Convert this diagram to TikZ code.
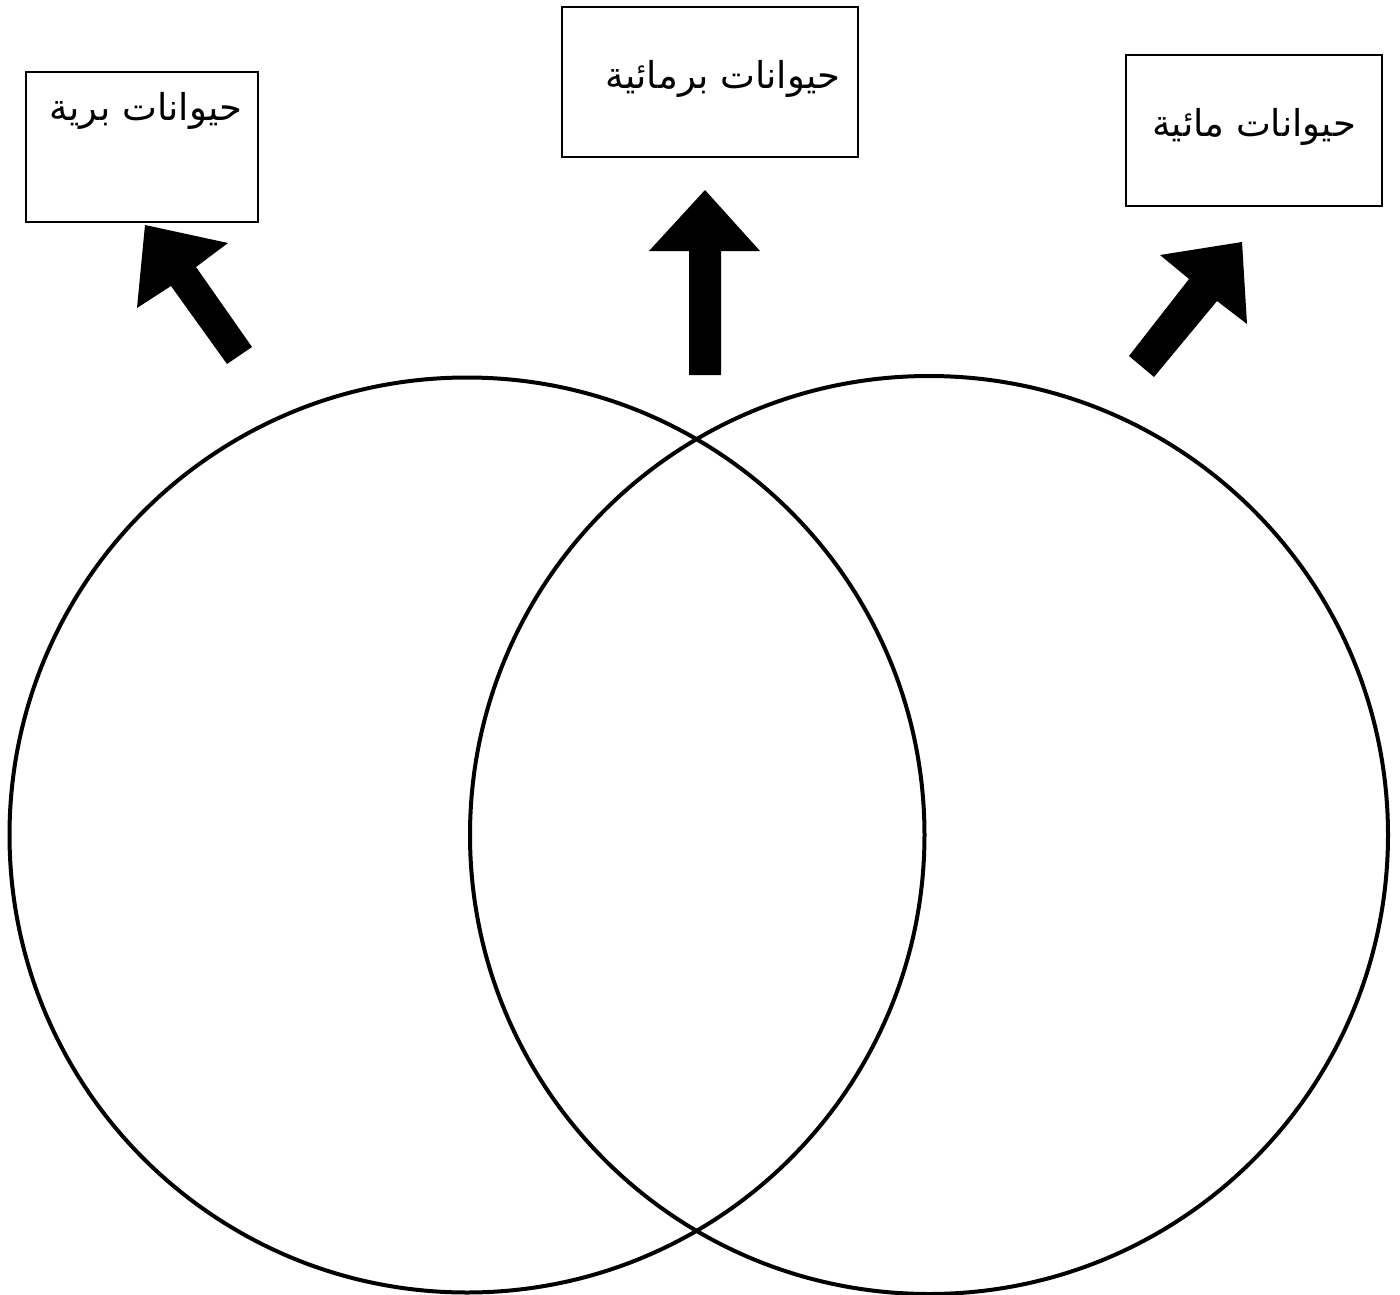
\documentclass[tikz,border=0pt]{standalone}
\usepackage{fontspec}
\newfontfamily\arabicfont[Script=Arabic]{DejaVu Sans}
\TeXXeTstate=1
\begin{document}
\begin{tikzpicture}[x=1pt,y=-1pt,
  box/.style={draw=black,line width=2.8pt,fill=white},
  lbl/.style={font=\arabicfont\fontsize{37}{44}\selectfont,inner sep=0pt,anchor=center},
  ring/.style={draw=black,line width=4pt},
  blockarrow/.style={fill=black,draw=none}]
\useasboundingbox (0,0) rectangle (1400,1295);
\fill[white] (0,0) rectangle (1400,1295);
% circles
\node[ring,circle,minimum size=915pt,inner sep=0pt] (land) at (467,835) {};
\node[ring,circle,minimum size=918pt,inner sep=0pt] (water) at (929,835) {};
% boxes
\draw[box] (26,72) rectangle (258,222);
\draw[box] (562,7) rectangle (858,157);
\draw[box] (1126,55) rectangle (1382,206);
% labels
\node[lbl] (tland) at (146,111) {\beginR حيوانات برية\endR};
\node[lbl] (tamph) at (723,79) {\beginR حيوانات برمائية\endR};
\node[lbl] (twater) at (1254,127) {\beginR حيوانات مائية\endR};
% block arrows
\fill[blockarrow] (145,225) -- (228,243) -- (196,267) -- (252,347) -- (227,364) -- (171,286) -- (137,308) -- cycle;
\fill[blockarrow] (705,190) -- (760,251) -- (721,251) -- (721,375) -- (689,375) -- (689,251) -- (649,251) -- cycle;
\fill[blockarrow] (1242,242) -- (1247,324) -- (1217,301) -- (1154,377) -- (1129,356) -- (1189,279) -- (1160,255) -- cycle;
\end{tikzpicture}
\end{document}
